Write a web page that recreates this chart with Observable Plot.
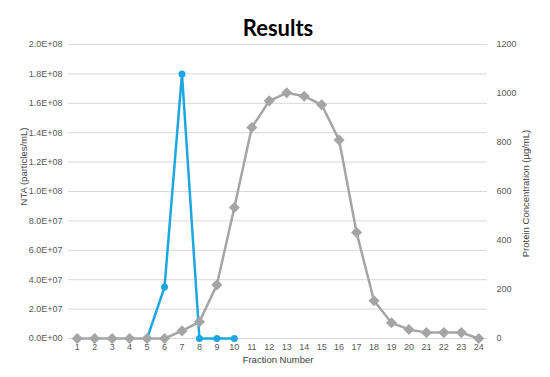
<!DOCTYPE html>
<html>
<head>
<meta charset="utf-8">
<script src="https://cdn.jsdelivr.net/npm/d3@7"></script>
<script src="https://cdn.jsdelivr.net/npm/@observablehq/plot@0.6"></script>
<style>
  html, body { margin: 0; padding: 0; background: #fff; }
</style>
</head>
<body>
<div id="chart"></div>
<script>
const title = "Results";
const fractions = d3.range(1, 25);
const ntaFractions = [5, 6, 7, 8, 9, 10];
const ntaValues = [0, 3.5e7, 1.8e8, 0, 0, 0];
const proteinValues = [0, 0, 0, 0, 0, 0, 31, 68, 219, 535, 861, 970, 1003, 989, 954, 810, 433, 154, 64, 37, 24, 24, 24, 0];
const leftTicks = d3.range(0, 2.0e8 + 1, 2e7);
const rightTicks = [0, 200, 400, 600, 800, 1000, 1200];

const leftMax = 2.0e8, rightMax = 1200;
const toLeft = v => v * leftMax / rightMax;

const nta = ntaFractions.map((f, i) => ({f, v: ntaValues[i]}));
const protein = fractions.map((f, i) => ({f, v: toLeft(proteinValues[i])}));

const blue = "#1ea7de", gray = "#a5a5a5";
const font = "'Liberation Sans', Arial, sans-serif";

const chart = Plot.plot({
  width: 550,
  height: 377,
  marginLeft: 68,
  marginRight: 63,
  marginTop: 44,
  marginBottom: 39,
  style: {fontFamily: font, fontSize: "9px", color: "#595959", background: "#fff"},
  x: {domain: [0.5, 24.5]},
  y: {domain: [0, leftMax]},
  marks: [
    Plot.gridY(leftTicks, {stroke: "#d9d9d9", strokeOpacity: 1, strokeWidth: 1}),
    Plot.axisY(leftTicks, {
      tickSize: 0, tickPadding: 6,
      tickFormat: d => d.toExponential(1).toUpperCase().replace(/E\+(\d)$/, "E+0$1"),
      label: null
    }),
    Plot.axisY(rightTicks.map(toLeft), {
      anchor: "right", tickSize: 0, tickPadding: 9,
      tickFormat: d => String(Math.round(d * rightMax / leftMax)),
      textAnchor: "start",
      label: null
    }),
    Plot.axisX(fractions, {tickSize: 0, tickPadding: 5, tickFormat: d => String(d), label: null}),
    Plot.line(nta, {x: "f", y: "v", stroke: blue, strokeWidth: 2.5}),
    Plot.dot(nta, {x: "f", y: "v", fill: blue, r: 3.5}),
    Plot.line(protein, {x: "f", y: "v", stroke: gray, strokeWidth: 2.5}),
    Plot.dot(protein, {x: "f", y: "v", fill: gray, symbol: "diamond2", r: 5}),
    Plot.text([title], {frameAnchor: "top", dy: -24, fontSize: 22, fontWeight: "bold", fill: "#000", fontFamily: "Lato, 'Open Sans', sans-serif"}),
    Plot.text(["Fraction Number"], {frameAnchor: "bottom", dy: 24, fontSize: 9.5, fill: "#404040"}),
    Plot.text(["NTA (particles/mL)"], {frameAnchor: "left", textAnchor: "middle", dx: -45, dy: -25, rotate: -90, fontSize: 9.5, fill: "#404040"}),
    Plot.text(["Protein Concentration (µg/mL)"], {frameAnchor: "right", textAnchor: "middle", dx: 38, dy: 2, rotate: -90, fontSize: 9.5, fill: "#404040"})
  ]
});
document.getElementById("chart").appendChild(chart);
</script>
</body>
</html>
